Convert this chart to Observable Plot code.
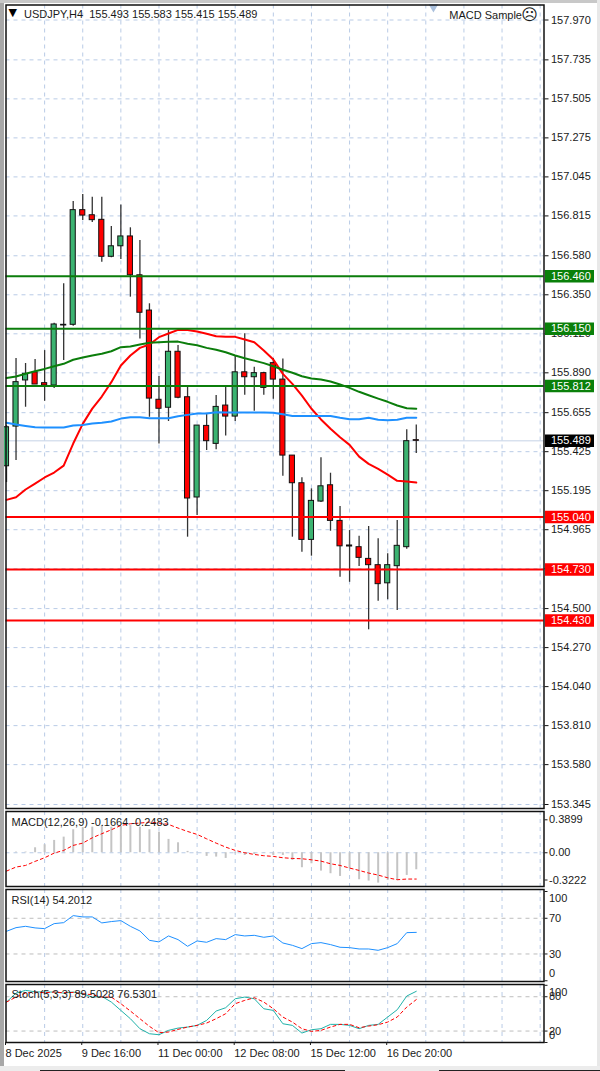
<!DOCTYPE html>
<html>
<head>
<meta charset="utf-8">
<script src="https://cdn.jsdelivr.net/npm/d3@7"></script>
<script src="https://cdn.jsdelivr.net/npm/@observablehq/plot@0.6"></script>
<style>
html,body{margin:0;padding:0;background:#fff}
#root{position:relative;width:600px;height:1071px;overflow:hidden;background:#fff}
#root svg{position:absolute;left:0;overflow:visible;max-width:none}
.edge{position:absolute}
</style>
</head>
<body>
<div id="root"></div>
<script>
// ---------- Candles ----------
const open=[155.339,155.573,155.845,155.893,155.829,155.815,156.173,156.173,156.849,156.819,156.792,156.574,156.636,156.694,156.465,156.257,155.731,155.684,156.014,155.746,155.155,155.577,155.471,155.697,155.632,155.893,155.864,155.888,155.947,155.850,155.402,155.239,154.905,155.131,155.227,155.017,154.872,154.862,154.793,154.756,154.649,154.750,154.862,155.493];
const high=[155.579,155.974,155.945,155.968,156.021,156.182,156.415,156.900,156.941,156.925,156.925,156.753,156.880,156.745,156.670,156.297,155.868,156.139,156.051,155.805,155.579,155.644,155.756,155.805,155.992,156.120,155.923,155.893,155.974,155.972,155.402,155.271,155.206,155.389,155.298,155.102,154.960,154.927,154.984,154.911,154.823,155.019,155.554,155.583];
const low=[155.243,155.373,155.687,155.821,155.722,155.797,155.962,156.165,156.788,156.776,156.542,156.568,156.558,156.336,156.090,155.628,155.471,155.603,155.737,154.921,155.049,155.432,155.436,155.518,155.603,155.758,155.664,155.758,155.734,155.280,154.921,154.832,154.809,155.125,154.956,154.685,154.655,154.748,154.375,154.543,154.552,154.488,154.850,155.415];
const close=[155.569,155.835,155.884,155.821,155.815,156.175,156.169,156.849,156.817,156.790,156.574,156.636,156.694,156.465,156.244,155.738,155.678,156.014,155.743,155.149,155.579,155.487,155.689,155.632,155.893,155.864,155.888,155.801,155.850,155.402,155.239,154.905,155.135,155.221,155.017,154.867,154.866,154.799,154.756,154.644,154.756,154.870,155.487,155.489];
// ---------- Moving averages ----------
const maRed=[155.141,155.156,155.202,155.237,155.273,155.302,155.343,155.473,155.589,155.679,155.750,155.835,155.933,155.992,156.037,156.057,156.100,156.122,156.143,156.143,156.133,156.120,156.106,156.102,156.102,156.086,156.070,156.021,155.968,155.884,155.825,155.756,155.678,155.615,155.560,155.510,155.465,155.396,155.353,155.324,155.290,155.253,155.249,155.243];
const maGreen=[155.860,155.868,155.884,155.899,155.913,155.929,155.943,155.967,155.980,155.992,156.002,156.017,156.041,156.045,156.057,156.067,156.070,156.073,156.074,156.061,156.053,156.037,156.026,156.011,155.992,155.976,155.962,155.947,155.929,155.908,155.890,155.870,155.856,155.850,155.839,155.821,155.801,155.778,155.758,155.738,155.719,155.697,155.681,155.678];
const maBlue=[155.595,155.585,155.577,155.569,155.567,155.567,155.567,155.579,155.583,155.591,155.595,155.603,155.620,155.628,155.628,155.622,155.622,155.622,155.634,155.642,155.650,155.650,155.658,155.656,155.656,155.656,155.656,155.656,155.654,155.646,155.636,155.636,155.636,155.636,155.636,155.625,155.616,155.616,155.625,155.613,155.610,155.613,155.625,155.625];
// ---------- Price levels & ticks ----------
const greenLevels=[156.460,156.150,155.812];
const redLevels=[155.040,154.730,154.430];
const lastPrice=[155.489];
const priceTicks=[157.970,157.735,157.505,157.275,157.045,156.815,156.580,156.350,156.120,155.890,155.655,155.425,155.195,154.965,154.735,154.500,154.270,154.040,153.810,153.580,153.345];
const gridBars=[4,8,12,16,20,24,28,32,36,40,44,48,52,56];
const shiftMarker=[44.8];
const dateBars=[0,8,16,24,32,40];
const dateLabels=["8 Dec 2025","9 Dec 16:00","11 Dec 00:00","12 Dec 08:00","15 Dec 12:00","16 Dec 20:00"];
// ---------- MACD ----------
const macdHist=[0,.008,.008,.059,.095,.146,.185,.272,.296,.303,.323,.303,.311,.323,.303,.272,.244,.158,.118,.016,-.004,-.043,-.051,-.067,-.012,-.032,-.020,-.004,-.032,-.032,-.091,-.177,-.130,-.217,-.248,-.280,-.189,-.319,-.335,-.359,-.327,-.327,-.268,-.201];
const macdSignal=[-.217,-.169,-.150,-.102,-.059,-.004,.028,.087,.114,.177,.225,.272,.323,.343,.351,.362,.351,.335,.292,.252,.217,.165,.114,.067,.028,0,-.020,-.035,-.043,-.059,-.067,-.071,-.083,-.099,-.130,-.150,-.181,-.209,-.240,-.264,-.296,-.319,-.311,-.311];
const macdTicks=[0.3899,0,-0.3222];
const macdTickLabels=["0.3899","0.00","-0.3222"];
// ---------- RSI ----------
const rsi=[55.4,59.5,61.0,59.2,58.4,64.0,65.1,73.0,71.5,71.5,64.8,66.3,67.4,61.0,55.8,45.3,43.5,50.2,46.1,38.6,44.6,43.1,47.2,46.1,51.7,50.2,50.9,48.7,50.2,42.3,39.7,36.0,41.6,42.7,40.5,37.5,37.1,35.6,35.6,34.1,37.1,41.6,53.9,54.2];
const rsiLevels=[70,30];
// ---------- Stochastic ----------
const stochMain=[70.7,86.4,91.1,88.7,88.2,88.2,86.4,88.2,85.2,79.4,80.6,70.7,56.1,41.6,24.1,15.3,13.6,21.2,25.2,27,29.9,38.6,55,60.8,76.5,79.4,76.5,59,56.1,32.8,29.9,16.5,22.3,24.1,31.7,31.7,29.9,24.1,29.9,31.7,44.5,57.3,81.2,89.5];
const stochSignal=[70.7,79.4,86.4,88.2,87,88.2,87,87.6,85.2,83.5,79.4,79.4,67.8,55,41.6,28.2,17.1,18.3,22.9,27,29.9,34,41.6,50.3,67.8,73.6,78.3,70.7,59,44.5,35.7,24.1,19.4,21.2,27,31.7,31.7,25.8,28.7,31.1,35.7,44.5,61.9,75];
const stochLevels=[80,20];

// ---------- Styles ----------
const FONT='"Liberation Sans",Arial,sans-serif';
const INK="#1a1a1a",GRID="#b9cbe6",LEVEL_GRID="#bdbdbd";
const LEFT=5.5,RIGHT=56.5,X_END=[6,543];
const xScale={type:"linear",domain:[0,56.35],range:X_END,axis:null};
const idx=(d,i)=>i;
const root=document.getElementById("root");
const vGrid=()=>Plot.ruleX(gridBars,{x:d=>d,stroke:GRID,strokeWidth:1,strokeDasharray:"4 4"});
const hGrid=(v,c=GRID)=>Plot.ruleY(v,{y:d=>d,stroke:c,strokeWidth:1,strokeDasharray:"4 4"});
const frame=()=>Plot.frame({stroke:"#111",strokeWidth:1.5});
function panel(top,height,marginTop,marginBottom,y,marks){
  const svg=Plot.plot({width:600,height,marginLeft:LEFT,marginRight:RIGHT,marginTop,marginBottom,
    x:xScale,y:{...y,axis:null},
    style:{fontFamily:FONT,fontSize:"11px",background:"transparent",color:INK},marks});
  svg.style.top=top+"px";
  root.appendChild(svg);
}
const caption=(text,dx,dy)=>Plot.text([text],{text:d=>d,frameAnchor:"top-left",textAnchor:"start",dx,dy,fill:INK,fontSize:11});

// ---------- Main price panel ----------
const bars=open.map((o,i)=>({i,o,h:high[i],l:low[i],c:close[i],up:close[i]>=o}));
const tagRule=(v,color)=>Plot.ruleY(v,{y:d=>d,stroke:color,strokeWidth:12.5,insetLeft:539.5,insetRight:-50.5});
const tagText=v=>Plot.text(v,{y:d=>d,text:d=>d.toFixed(3),frameAnchor:"right",textAnchor:"start",dx:7,fill:"#fff",fontSize:11});
panel(0,809,4.5,1,{domain:[157.97,153.345],range:[19.5,804]},[
  hGrid(priceTicks),vGrid(),
  Plot.ruleY(lastPrice,{y:d=>d,stroke:"#c5d2e6",strokeWidth:1}),
  Plot.ruleX(bars,{x:"i",y1:"l",y2:"h",stroke:"#333",strokeWidth:1.3}),
  Plot.rect(bars,{x1:d=>d.i-.27,x2:d=>d.i+.27,y1:"o",y2:"c",fill:d=>d.up?"#3cb371":"#ff0000",stroke:"#111",strokeWidth:1}),
  Plot.line(maRed,{x:idx,y:d=>d,stroke:"#ff0000",strokeWidth:2}),
  Plot.line(maGreen,{x:idx,y:d=>d,stroke:"#0b7d0b",strokeWidth:2}),
  Plot.line(maBlue,{x:idx,y:d=>d,stroke:"#1e90ff",strokeWidth:2}),
  Plot.ruleY(greenLevels,{y:d=>d,stroke:"#0b7d0b",strokeWidth:2}),
  Plot.ruleY(redLevels,{y:d=>d,stroke:"#ff0000",strokeWidth:2}),
  Plot.axisY({anchor:"right",ticks:priceTicks,tickFormat:d=>d.toFixed(3),tickSize:4,tickPadding:3,label:null,stroke:"#111",fill:INK}),
  tagRule(greenLevels,"#0a800a"),tagRule(redLevels,"#ff0000"),tagRule(lastPrice,"#000000"),
  tagText(greenLevels),tagText(redLevels),tagText(lastPrice),
  Plot.dot(shiftMarker,{x:d=>d,frameAnchor:"top",symbol:"triangle",rotate:180,r:3.6,dy:2,fill:"#a9bfdc"}),
  frame(),
  Plot.text(["▼"],{text:d=>d,frameAnchor:"top-left",textAnchor:"start",dx:2.5,dy:3,fill:"#000",fontSize:11,fontFamily:"DejaVu Sans"}),
  caption("USDJPY,H4  155.493 155.583 155.415 155.489",18,5),
  Plot.text(["MACD Sample"],{text:d=>d,frameAnchor:"top-right",textAnchor:"end",dx:-22,dy:6,fill:INK,fontSize:11}),
  Plot.text(["☹"],{text:d=>d,frameAnchor:"top-right",textAnchor:"end",dx:-6,dy:3.5,fill:INK,fontSize:16,fontFamily:"DejaVu Sans"})
]);

// ---------- MACD panel ----------
panel(810,77,1,1,{domain:[0.3899,-0.3222],range:[9.3,69.5]},[
  Plot.ruleY([0],{y:d=>d,stroke:GRID,strokeWidth:1,strokeDasharray:"4 4"}),vGrid(),
  Plot.ruleX(macdHist,{x:idx,y1:0,y2:d=>d,stroke:"#c4c4c4",strokeWidth:2}),
  Plot.line(macdSignal,{x:idx,y:d=>d,stroke:"#ff0000",strokeWidth:1,strokeDasharray:"3 3"}),
  Plot.axisY({anchor:"right",ticks:macdTicks,tickFormat:d=>macdTickLabels[macdTicks.indexOf(d)],tickSize:3,tickPadding:2,label:null,fill:INK}),
  frame(),
  caption("MACD(12,26,9) -0.1664 -0.2483",5.5,7)
]);

// ---------- RSI panel ----------
panel(888,94,1,1,{domain:[100,0],range:[3,92.25]},[
  hGrid(rsiLevels,LEVEL_GRID),vGrid(),
  Plot.line(rsi,{x:idx,y:d=>d,stroke:"#1e90ff",strokeWidth:1}),
  Plot.axisY({anchor:"right",ticks:[100,70,30,0],tickFormat:d=>(d===70||d===30)?String(d):"",tickSize:3,tickPadding:2,label:null,fill:INK}),
  Plot.text([100],{y:d=>d,text:d=>String(d),frameAnchor:"right",textAnchor:"start",dx:5,dy:7,fill:INK,fontSize:11}),
  Plot.text([0],{y:d=>d,text:d=>String(d),frameAnchor:"right",textAnchor:"start",dx:5,dy:-7.5,fill:INK,fontSize:11}),
  frame(),
  caption("RSI(14) 54.2012",5.5,7)
]);

// ---------- Stochastic panel + date axis ----------
panel(983,84,1,25,{domain:[100,0],range:[1.8,59]},[
  hGrid(stochLevels,LEVEL_GRID),vGrid(),
  Plot.line(stochMain,{x:idx,y:d=>d,stroke:"#20b2aa",strokeWidth:1}),
  Plot.line(stochSignal,{x:idx,y:d=>d,stroke:"#ff0000",strokeWidth:1,strokeDasharray:"3 3"}),
  Plot.axisY({anchor:"right",ticks:[100,80,20,0],tickFormat:d=>(d===80||d===20)?String(d):"",tickSize:3,tickPadding:2,label:null,fill:INK}),
  Plot.text([100],{y:d=>d,text:d=>String(d),frameAnchor:"right",textAnchor:"start",dx:5,dy:7,fill:INK,fontSize:11}),
  Plot.text([0],{y:d=>d,text:d=>String(d),frameAnchor:"right",textAnchor:"start",dx:5,dy:-7,fill:INK,fontSize:11}),
  frame(),
  caption("Stoch(5,3,3) 89.5028 76.5301",5.5,6),
  Plot.axisX({anchor:"bottom",ticks:dateBars,tickFormat:d=>dateLabels[dateBars.indexOf(d)],tickSize:3,tickPadding:4,textAnchor:"start",dx:-1,label:null,fill:INK})
]);

// ---------- Window chrome ----------
["left:0;top:0;width:4px;height:1071px;background:#a8a8a8",
 "left:0;top:0;width:600px;height:3px;background:#c8c8c8",
 "left:597px;top:0;width:3px;height:1071px;background:#e8e8e8",
 "left:0;top:1066px;width:600px;height:5px;background:#ececec",
 "left:40px;top:1070px;width:305px;height:1px;background:#222",
 "left:439px;top:1070px;width:161px;height:1px;background:#222"].forEach(s=>{
  const d=document.createElement("div");d.className="edge";d.style.cssText=s;root.appendChild(d);
});
</script>
</body>
</html>
